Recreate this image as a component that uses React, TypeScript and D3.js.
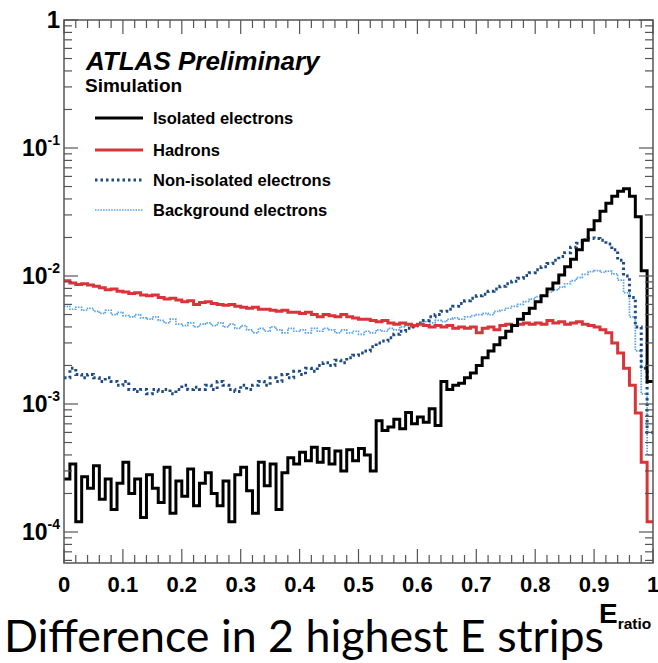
import React from "react";
import * as d3 from "d3";

// Bin width 0.01, 100 bins from 0 to 1 (E_ratio)
const NBINS = 100;
const xTickLabels = ["0", "0.1", "0.2", "0.3", "0.4", "0.5", "0.6", "0.7", "0.8", "0.9", "1"];
const yTickExponents = [0, -1, -2, -3, -4];

const isolatedElectrons = [
  2.6e-4, 3.4e-4, 1.2e-4, 2.7e-4, 2.2e-4, 3.3e-4, 1.8e-4, 2.6e-4, 1.5e-4, 2.4e-4,
  3.5e-4, 2.0e-4, 2.6e-4, 1.3e-4, 2.8e-4, 2.2e-4, 1.7e-4, 3.2e-4, 1.4e-4, 2.5e-4,
  1.9e-4, 3.1e-4, 1.6e-4, 2.4e-4, 2.9e-4, 2.0e-4, 1.6e-4, 2.5e-4, 1.2e-4, 2.8e-4,
  3.2e-4, 2.1e-4, 1.4e-4, 3.5e-4, 2.3e-4, 3.4e-4, 1.5e-4, 2.9e-4, 3.8e-4, 3.4e-4,
  4.2e-4, 3.6e-4, 4.6e-4, 3.5e-4, 4.5e-4, 3.4e-4, 4.3e-4, 3.0e-4, 4.4e-4, 3.6e-4,
  4.5e-4, 4.0e-4, 3.0e-4, 7.4e-4, 6.2e-4, 6.6e-4, 7.6e-4, 6.4e-4, 8.6e-4, 7.0e-4,
  7.9e-4, 7.2e-4, 9.2e-4, 6.8e-4, 1.5e-3, 1.3e-3, 1.4e-3, 1.45e-3, 1.6e-3, 1.75e-3,
  2.0e-3, 2.3e-3, 2.6e-3, 2.9e-3, 3.3e-3, 3.7e-3, 4.1e-3, 4.6e-3, 5.1e-3, 5.6e-3,
  6.3e-3, 7.0e-3, 7.9e-3, 8.8e-3, 0.0102, 0.0118, 0.0135, 0.016, 0.019, 0.023,
  0.027, 0.032, 0.037, 0.042, 0.046, 0.048, 0.042, 0.029, 0.011, 0.0015,
];

const hadrons = [
  0.0092, 0.0088, 0.0086, 0.0087, 0.0085, 0.0083, 0.0081, 0.0078, 0.0079, 0.0076,
  0.0075, 0.0073, 0.0074, 0.0071, 0.0070, 0.0071, 0.0068, 0.0066, 0.0067, 0.0065,
  0.0063, 0.0064, 0.0060, 0.0062, 0.0063, 0.0061, 0.0060, 0.0059, 0.0060, 0.0058,
  0.0057, 0.0056, 0.0057, 0.0055, 0.0055, 0.0054, 0.0053, 0.0054, 0.0052, 0.0052,
  0.0051, 0.0052, 0.0050, 0.0048, 0.0050, 0.0049, 0.0048, 0.0050, 0.0048, 0.0047,
  0.0046, 0.0046, 0.0045, 0.0044, 0.0045, 0.0043, 0.0042, 0.0043, 0.0042, 0.0041,
  0.0042, 0.0041, 0.0040, 0.0041, 0.0040, 0.0041, 0.0039, 0.0040, 0.0039, 0.0040,
  0.0036, 0.0039, 0.0040, 0.0038, 0.0041, 0.0042, 0.0041, 0.0042, 0.0043, 0.0042,
  0.0043, 0.0042, 0.0045, 0.0043, 0.0044, 0.0042, 0.0043, 0.0044, 0.0042, 0.0041,
  0.0040, 0.0038, 0.0036, 0.0030, 0.0025, 0.0019, 0.0014, 0.00085, 0.00035, 0.00012,
];

const nonIsolatedElectrons = [
  0.0016, 0.0019, 0.0017, 0.0016, 0.0017, 0.0016, 0.0015, 0.0016, 0.0015, 0.0014,
  0.0015, 0.0013, 0.00125, 0.0013, 0.0012, 0.0013, 0.00125, 0.0013, 0.0012, 0.0013,
  0.0014, 0.0013, 0.00135, 0.0013, 0.0014, 0.0013, 0.0015, 0.0014, 0.0013, 0.00125,
  0.0014, 0.0013, 0.0014, 0.0015, 0.0014, 0.0016, 0.0015, 0.0017, 0.0016, 0.0018,
  0.0017, 0.0019, 0.0018, 0.0020, 0.0021, 0.0020, 0.0022, 0.0021, 0.0023, 0.0024,
  0.0025, 0.0026, 0.0028, 0.0030, 0.0031, 0.0033, 0.0035, 0.0037, 0.0039, 0.0040,
  0.0043, 0.0045, 0.0048, 0.0050, 0.0053, 0.0055, 0.0058, 0.0061, 0.0064, 0.0067,
  0.0070, 0.0072, 0.0076, 0.0079, 0.0083, 0.0087, 0.0091, 0.0096, 0.0101, 0.0106,
  0.0112, 0.0118, 0.0125, 0.0133, 0.0142, 0.0152, 0.0168, 0.0180, 0.0192, 0.0198,
  0.0196, 0.0190, 0.0178, 0.0160, 0.0133, 0.0100, 0.0068, 0.0040, 0.0019, 0.0006,
];

const backgroundElectrons = [
  0.0058, 0.0055, 0.0057, 0.0054, 0.0056, 0.0053, 0.0051, 0.0054, 0.0050, 0.0052,
  0.0049, 0.0048, 0.0050, 0.0047, 0.0046, 0.0048, 0.0045, 0.0043, 0.0046, 0.0042,
  0.0041, 0.0043, 0.0040, 0.0042, 0.0043, 0.0041, 0.0043, 0.0040, 0.0042, 0.0039,
  0.0041, 0.0038, 0.0036, 0.0039, 0.0037, 0.0040, 0.0038, 0.0036, 0.0039, 0.0037,
  0.0038, 0.0036, 0.0039, 0.0037, 0.0039, 0.0038, 0.0036, 0.0038, 0.0036, 0.0037,
  0.0035, 0.0037, 0.0036, 0.0038, 0.0037, 0.0039, 0.0038, 0.0040, 0.0041, 0.0040,
  0.0042, 0.0044, 0.0043, 0.0045, 0.0044, 0.0046, 0.0047, 0.0046, 0.0048, 0.0049,
  0.0050, 0.0051, 0.0050, 0.0053, 0.0054, 0.0056, 0.0058, 0.0060, 0.0063, 0.0066,
  0.0069, 0.0071, 0.0075, 0.0078, 0.0082, 0.0087, 0.0092, 0.0097, 0.0103, 0.0108,
  0.0110, 0.0107, 0.0109, 0.0104, 0.0093, 0.0074, 0.0048, 0.0026, 0.0012, 0.0004,
];

const seriesNames = ["Isolated electrons", "Hadrons", "Non-isolated electrons", "Background electrons"];

const W = 658;
const H = 663;
const left = 64, right = 653, top = 20, bottom = 563;
const yMin = Math.pow(10, -543 / 128);

export default function App() {
  const x = d3.scaleLinear().domain([0, 1]).range([left, right]);
  const y = d3.scaleLog().domain([yMin, 1]).range([bottom, top]);

  const binW = 1 / NBINS;
  const stepPath = (vals: number[]) => {
    const pts: [number, number][] = [];
    vals.forEach((v, i) => {
      pts.push([i * binW, v]);
      pts.push([(i + 1) * binW, v]);
    });
    return d3
      .line<[number, number]>()
      .x((d) => x(d[0]))
      .y((d) => y(Math.max(d[1], 1e-7)))(pts) as string;
  };

  const styles = [
    { data: isolatedElectrons, stroke: "#000000", width: 3, dash: undefined as string | undefined },
    { data: hadrons, stroke: "#d8353b", width: 3, dash: undefined },
    { data: nonIsolatedElectrons, stroke: "#1d4b82", width: 3, dash: "2.5,3" },
    { data: backgroundElectrons, stroke: "#55a2e6", width: 1.7, dash: "1.5,1.2" },
  ];

  const xMajor = d3.range(0, 11).map((i) => i / 10);
  const xMinor = d3.range(0, 51).map((i) => i / 50).filter((_, i) => i % 5 !== 0);
  const yMinor: number[] = [];
  for (let e = -5; e < 0; e++) {
    for (let m = 2; m <= 9; m++) {
      const v = m * Math.pow(10, e);
      if (v >= yMin && v <= 1) yMinor.push(v);
    }
  }
  const frameColor = "#555";
  const majL = 14, minL = 8;

  const legendY = [118, 150, 180, 210];

  return (
    <svg width={W} height={H} style={{ position: "absolute", left: 0, top: 0, background: "#fff" }}>
      <defs>
        <clipPath id="plotclip">
          <rect x={left} y={top} width={right - left} height={bottom - top} />
        </clipPath>
      </defs>
      <rect x={0} y={0} width={W} height={H} fill="#fff" />

      <g clipPath="url(#plotclip)">
        {styles
          .slice()
          .reverse()
          .map((s, i) => (
            <path
              key={i}
              d={stepPath(s.data)}
              fill="none"
              stroke={s.stroke}
              strokeWidth={s.width}
              strokeDasharray={s.dash}
              strokeLinejoin="miter"
            />
          ))}
      </g>

      <rect x={left} y={top} width={right - left} height={bottom - top} fill="none" stroke={frameColor} strokeWidth={1.5} />

      <g stroke={frameColor} strokeWidth={1.2}>
        {xMajor.map((v, i) => (
          <g key={"xM" + i}>
            <line x1={x(v)} x2={x(v)} y1={bottom} y2={bottom - majL} />
            <line x1={x(v)} x2={x(v)} y1={top} y2={top + majL} />
          </g>
        ))}
        {xMinor.map((v, i) => (
          <g key={"xm" + i}>
            <line x1={x(v)} x2={x(v)} y1={bottom} y2={bottom - minL} />
            <line x1={x(v)} x2={x(v)} y1={top} y2={top + minL} />
          </g>
        ))}
        {yTickExponents.map((e, i) => (
          <g key={"yM" + i}>
            <line x1={left} x2={left + majL} y1={y(Math.pow(10, e))} y2={y(Math.pow(10, e))} />
            <line x1={right} x2={right - majL} y1={y(Math.pow(10, e))} y2={y(Math.pow(10, e))} />
          </g>
        ))}
        {yMinor.map((v, i) => (
          <g key={"ym" + i}>
            <line x1={left} x2={left + minL} y1={y(v)} y2={y(v)} />
            <line x1={right} x2={right - minL} y1={y(v)} y2={y(v)} />
          </g>
        ))}
      </g>

      <g fontFamily="Liberation Sans, Arial, sans-serif" fontWeight="bold" fontSize={22} fill="#000" textAnchor="middle">
        {xTickLabels.map((t, i) => (
          <text key={i} x={x(xMajor[i])} y={592}>
            {t}
          </text>
        ))}
      </g>

      <g fontFamily="Liberation Sans, Arial, sans-serif" fontWeight="bold" fill="#000">
        {yTickExponents.map((e, i) =>
          e === 0 ? (
            <text key={i} x={60} y={y(1) + 8} fontSize={24} textAnchor="end">
              1
            </text>
          ) : (
            <text key={i} x={60} y={y(Math.pow(10, e)) + 8} fontSize={23} textAnchor="end">
              10
              <tspan fontSize={14} dy={-11}>
                {String(e)}
              </tspan>
            </text>
          )
        )}
      </g>

      <text x={86} y={70} fontFamily="Liberation Sans, Arial, sans-serif" fontWeight="bold" fontStyle="italic" fontSize={26}>
        ATLAS Preliminary
      </text>
      <text x={85} y={92} fontFamily="Liberation Sans, Arial, sans-serif" fontWeight="bold" fontSize={19}>
        Simulation
      </text>

      <g fontFamily="Liberation Sans, Arial, sans-serif" fontWeight="bold" fontSize={16.5}>
        {styles.map((s, i) => (
          <g key={i}>
            <line
              x1={95}
              x2={143}
              y1={legendY[i]}
              y2={legendY[i]}
              stroke={s.stroke}
              strokeWidth={s.width}
              strokeDasharray={s.dash}
            />
            <text x={153} y={legendY[i] + 6}>
              {seriesNames[i]}
            </text>
          </g>
        ))}
      </g>

      <text x={599} y={623} fontFamily="Liberation Sans, Arial, sans-serif" fontWeight="bold" fontSize={28}>
        E
        <tspan fontSize={15.5} dy={6}>
          ratio
        </tspan>
      </text>

      <text x={4} y={652} fontFamily="Lato, 'Open Sans', sans-serif" fontSize={44} textLength={600} lengthAdjust="spacingAndGlyphs">
        Difference in 2 highest E strips
      </text>
    </svg>
  );
}
